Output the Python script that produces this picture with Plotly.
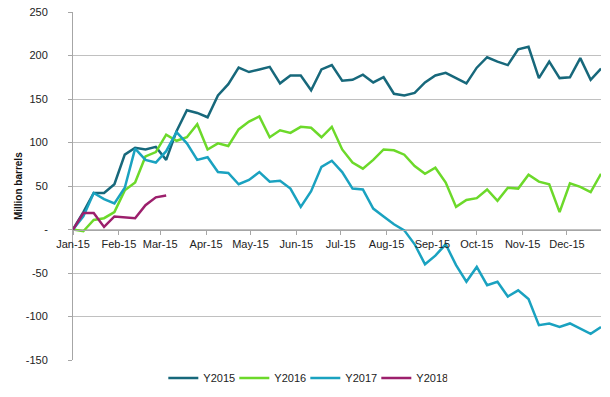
import plotly.graph_objects as go
import pandas as pd

weeks = pd.date_range(start="2015-01-01", periods=52, freq="7D").strftime("%Y-%m-%d").tolist()

y2015 = [0, 20, 42, 42, 52, 86, 94, 92, 95, 80, 113, 137, 134, 129, 154, 167, 186, 181,
         184, 187, 168, 177, 177, 160, 184, 189, 171, 172, 178, 169, 175, 156, 154, 157,
         169, 177, 180, 174, 168, 186, 198, 193, 189, 207, 210, 174, 193, 174, 175, 197,
         172, 185]
y2016 = [0, -2, 11, 13, 20, 45, 54, 84, 89, 109, 102, 106, 121, 92, 99, 96, 115, 124,
         130, 106, 114, 111, 118, 117, 106, 118, 92, 77, 70, 80, 92, 91, 86, 73, 64, 71,
         54, 26, 34, 36, 46, 33, 48, 47, 63, 55, 52, 20, 53, 49, 43, 64]
y2017 = [0, 15, 42, 35, 30, 48, 93, 80, 77, 90, 112, 99, 80, 83, 66, 65, 52, 57, 66, 55,
         56, 47, 26, 44, 72, 79, 66, 47, 46, 24, 15, 6, -1, -17, -40, -30, -17, -41, -60,
         -43, -64, -60, -77, -70, -80, -110, -108, -112, -108, -114, -120, -112]
y2018 = [0, 19, 19, 3, 15, 14, 13, 28, 37, 39]

series = [
    ("Y2015", y2015, "#17687b"),
    ("Y2016", y2016, "#6cd92a"),
    ("Y2017", y2017, "#1aa2c0"),
    ("Y2018", y2018, "#9c1f6c"),
]

y_ticks = [-150, -100, -50, 0, 50, 100, 150, 200, 250]
y_tick_text = ["-150", "-100", "-50", "-", "50", "100", "150", "200", "250"]
month_ticks = pd.date_range(start="2015-01-01", periods=12, freq="MS").strftime("%Y-%m-%d").tolist()

fig = go.Figure()
for name, vals, color in series:
    fig.add_trace(go.Scatter(
        x=weeks[:len(vals)], y=vals, name=name, mode="lines",
        line=dict(color=color, width=2.5),
    ))

font = dict(family="Liberation Sans, Arial, sans-serif", size=11, color="#222222")

fig.update_layout(
    width=610, height=397,
    margin=dict(l=73, r=9, t=12, b=37, autoexpand=False),
    paper_bgcolor="white", plot_bgcolor="white",
    font=font,
    showlegend=True,
    legend=dict(orientation="h", x=0.44, xanchor="center", y=-0.052, yanchor="middle",
                font=dict(size=11, color="#222222"), itemwidth=30,
                entrywidth=26, tracegroupgap=0),
    xaxis=dict(
        type="date",
        range=[weeks[0], weeks[-1]],
        tickvals=month_ticks,
        tickformat="%b-%y",
        showgrid=False,
        showline=True, linecolor="#a6a6a6", linewidth=1,
        ticks="outside", ticklen=4, tickcolor="#a6a6a6",
        anchor="free", position=0.375,
        tickfont=dict(size=11),
        zeroline=False, automargin=False,
    ),
    yaxis=dict(
        range=[-150, 250],
        tickvals=y_ticks, ticktext=y_tick_text,
        showgrid=True, gridcolor="#c0c0c0", gridwidth=1,
        showline=True, linecolor="#a6a6a6", linewidth=1,
        ticks="outside", ticklen=4, tickcolor="#a6a6a6",
        ticklabelstandoff=18,
        zeroline=False, automargin=False,
        tickfont=dict(size=11),
    ),
    annotations=[dict(
        text="<b>Million barrels</b>", textangle=-90,
        xref="paper", yref="paper", x=-0.104, y=0.5,
        xanchor="center", yanchor="middle", showarrow=False,
        font=dict(size=10, color="#111111"),
    )],
)

fig.write_html(
    "out.html",
    config={"displayModeBar": False},
    post_script="document.body.style.margin='0';document.body.style.padding='0';",
)
